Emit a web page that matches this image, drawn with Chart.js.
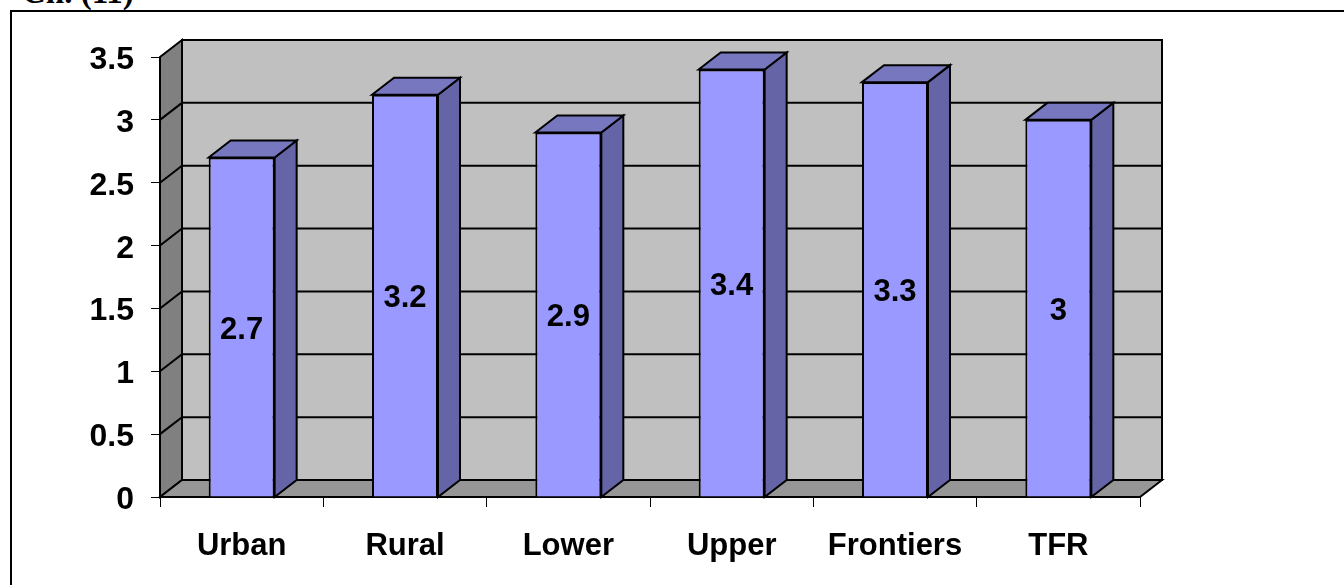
<!DOCTYPE html>
<html>
<head>
<meta charset="utf-8">
<style>
html,body{margin:0;padding:0;background:#fff;overflow:hidden}
#wrap{position:relative;width:1344px;height:585px;overflow:hidden}
#chart{position:absolute;left:0;top:0}
#cap{position:absolute;left:22px;top:-24px;font:bold 33px "Liberation Serif",serif;color:#000;line-height:33px}
#top{position:absolute;left:10px;top:10px;width:1334px;height:2px;background:#000}
#side{position:absolute;left:10px;top:10px;width:2px;height:575px;background:#000}
</style>
<script src="https://cdn.jsdelivr.net/npm/chart.js@4"></script>
</head>
<body>
<div id="wrap">
<div id="cap">Ch. (11)</div>
<canvas id="chart" width="1344" height="585"></canvas>
<div id="top"></div>
<div id="side"></div>
</div>
<script>
const categories = ['Urban','Rural','Lower','Upper','Frontiers','TFR'];
const values = [2.7,3.2,2.9,3.4,3.3,3];
const yTicks = [0,0.5,1,1.5,2,2.5,3,3.5];

// depth of the fake 3d box
const dx = 22, dy = -17;

function poly(ctx, pts, fill){
  ctx.beginPath();
  pts.forEach((p,i)=> i ? ctx.lineTo(p[0],p[1]) : ctx.moveTo(p[0],p[1]));
  ctx.closePath();
  ctx.fillStyle = fill; ctx.fill();
  ctx.strokeStyle = '#000'; ctx.lineWidth = 2; ctx.stroke();
}

const box3d = {
  id:'box3d',
  beforeDatasetsDraw(chart){
    const {ctx, scales:{x,y}} = chart;
    const l=x.left, r=x.right, t=y.getPixelForValue(3.5), b=y.getPixelForValue(0);
    ctx.save();
    poly(ctx,[[l+dx,t+dy],[r+dx,t+dy],[r+dx,b+dy],[l+dx,b+dy]],'#c0c0c0');
    poly(ctx,[[l,t],[l+dx,t+dy],[l+dx,b+dy],[l,b]],'#808080');
    poly(ctx,[[l,b],[l+dx,b+dy],[r+dx,b+dy],[r,b]],'#969696');
    ctx.strokeStyle='#000'; ctx.lineWidth=2;
    yTicks.slice(1,-1).forEach(v=>{
      const p=y.getPixelForValue(v);
      ctx.beginPath(); ctx.moveTo(l,p); ctx.lineTo(l+dx,p+dy); ctx.lineTo(r+dx,p+dy); ctx.stroke();
    });
    ctx.restore();
  },
  afterDatasetsDraw(chart){
    const {ctx, scales:{y}} = chart;
    const b=y.getPixelForValue(0);
    ctx.save();
    chart.getDatasetMeta(0).data.forEach((bar,i)=>{
      const l=bar.x-bar.width/2, r=bar.x+bar.width/2, t=bar.y;
      poly(ctx,[[r,t],[r+dx,t+dy],[r+dx,b+dy],[r,b]],'#6464a6');
      poly(ctx,[[l,t],[l+dx,t+dy],[r+dx,t+dy],[r,t]],'#7777bf');
      ctx.fillStyle='#000';
      ctx.font='bold 31px "Liberation Sans",Arial,sans-serif';
      ctx.textAlign='center'; ctx.textBaseline='middle';
      ctx.fillText(String(values[i]),bar.x,(t+b)/2+3);
    });
    ctx.restore();
  }
};

new Chart(document.getElementById('chart'),{
  type:'bar',
  data:{labels:categories,datasets:[{
    data:values,
    backgroundColor:'#9999ff',
    borderColor:'#000',
    borderWidth:2,
    categoryPercentage:1,
    barPercentage:0.404
  }]},
  plugins:[box3d],
  options:{
    responsive:false,
    animation:false,
    layout:{padding:{left:0,top:57,right:204,bottom:0}},
    plugins:{legend:{display:false},tooltip:{enabled:false}},
    scales:{
      x:{
        afterFit(s){s.height=88},
        grid:{drawOnChartArea:false,drawTicks:true,tickLength:10,tickColor:'#000',offset:true,color:'#000'},
        border:{display:false},
        ticks:{color:'#000',padding:21,maxRotation:0,font:{family:'"Liberation Sans",Arial,sans-serif',size:31,weight:'bold'}}
      },
      y:{
        min:0,max:3.5,
        afterFit(s){s.width=160},
        afterBuildTicks(s){s.ticks=yTicks.map(v=>({value:v}))},
        grid:{drawOnChartArea:false,drawTicks:true,tickLength:9,tickColor:'#000'},
        border:{display:false},
        // blank first line + small lineHeight nudges the labels down about 3px
        ticks:{color:'#000',padding:17,callback:v=>['',String(v)],font:{family:'"Liberation Sans",Arial,sans-serif',size:32,weight:'bold',lineHeight:0.2}}
      }
    }
  }
});
</script>
</body>
</html>
